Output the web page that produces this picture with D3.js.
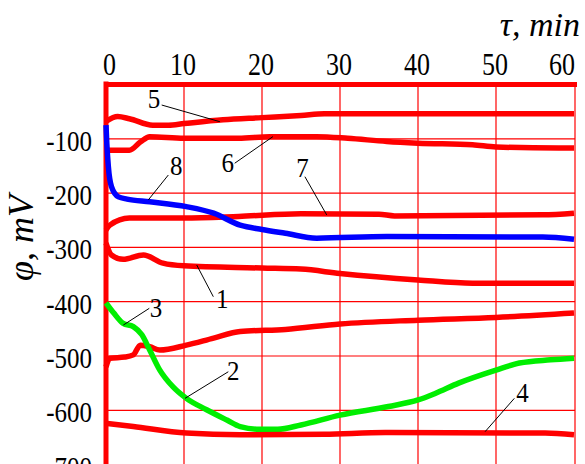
<!DOCTYPE html>
<html><head><meta charset="utf-8">
<script src="https://cdn.jsdelivr.net/npm/d3@7"></script>
<style>body{margin:0;background:#fff}svg{display:block}</style>
</head><body>
<svg id="c" width="585" height="464"></svg>
<script>
// ---- data ----
const xTicks = [0, 10, 20, 30, 40, 50, 60];
const yTicks = [-100, -200, -300, -400, -500, -600, -700];
const xTitle = "τ, min";
const yTitle = "φ, mV";

const curve5 = [[0,-68],[1.5,-59],[3,-63],[6,-75],[8,-75],[10,-72],[15,-65],[20,-61],[25,-57],[28,-54],[40,-54],[50,-54],[60,-54]];
const curve6 = [[0,-121],[3,-121],[4.4,-106],[5.6,-96],[10,-99],[17,-99],[21,-96],[27,-96],[31,-99],[36,-105],[40,-108],[47,-111],[50,-115],[58,-117],[60,-117]];
const curve7 = [[0,-268],[0.5,-259],[3,-246],[10,-246],[17,-243],[25,-238],[35,-239],[37,-242],[56,-240],[60,-237]];
const curve8 = [[0,-75],[0.1,-108],[0.3,-151],[0.7,-188],[1.6,-207],[2.7,-211],[5.6,-216],[10.3,-225],[13.8,-237],[17.2,-259],[20,-267],[23,-274],[27,-283],[36,-280],[56,-281],[60,-285]];
const curve1 = [[0,-292],[0.7,-314],[2.2,-322],[4.8,-314],[7.3,-329],[10,-334],[20,-338],[25,-340],[30,-348],[40,-360],[47,-366],[60,-366]];
const curve2 = [[0,-520],[0.5,-504],[2.4,-502],[3.5,-498],[4.4,-480],[5.6,-483],[6.9,-489],[10.3,-480],[13.8,-467],[17.2,-455],[23,-451],[30,-441],[40,-434],[50,-429],[60,-421]];
const curve3 = [[0,-402],[1,-421],[2.2,-440],[3.5,-446],[4.6,-461],[5.6,-489],[6.9,-526],[8.6,-557],[10.3,-578],[12.9,-599],[15.5,-618],[17.2,-630],[19.7,-635],[22,-635],[25,-627],[30,-609],[36.2,-593],[40,-581],[42.2,-569],[45.2,-550],[50,-526],[53,-513],[57,-507],[60,-504]];
const curve4 = [[0,-624],[3.5,-630],[10.3,-642],[17.2,-645],[28,-644],[35.8,-641],[56.3,-642],[60,-645]];

const seriesNames = ["5","6","7","8","1","2","3","4"];
const seriesData  = [curve5, curve6, curve7, curve8, curve1, curve2, curve3, curve4];
const seriesColor = ["#ff0000","#ff0000","#ff0000","#0000ff","#ff0000","#ff0000","#00ee00","#ff0000"];

// annotation labels: [text, labelX, labelY, lineFromX, lineFromY, lineToX, lineToY] (data units)
const labels = [
  ["5", 6.15, -43, 7.14, -37.8, 14.6, -68.5],
  ["6", 15.6, -161, 16.5, -145, 21.4, -96],
  ["8", 9.0, -167, 7.99, -166.7, 5.42, -212.7],
  ["7", 25.2, -170, 25.5, -169.8, 28.3, -240.3],
  ["1", 14.9, -411.6, 13.76, -390.8, 11.63, -332.4],
  ["3", 6.4, -428.2, 5.55, -412.2, 2.22, -443],
  ["2", 16.3, -544.2, 15.68, -529, 10.13, -578],
  ["4", 53.4, -584.7, 52.35, -578, 48.6, -639.4]
];

// ---- drawing ----
const svg = d3.select("#c");
const x = d3.scaleLinear().domain([0, 60]).range([106, 574]);
const y = d3.scaleLinear().domain([0, -700]).range([84.5, 464.6]);
const serif = "'Liberation Serif','Times New Roman',serif";
const red = "#ff0000";

const grid = svg.append("g");
// vertical grid
grid.selectAll("line.v").data(xTicks.slice(1)).enter().append("line")
  .attr("x1", d => x(d) + (d === 60 ? 1 : 0)).attr("x2", d => x(d) + (d === 60 ? 1 : 0))
  .attr("y1", y(0)).attr("y2", 470)
  .attr("stroke", red).attr("stroke-width", 1.2);
// horizontal grid
grid.selectAll("line.h").data(yTicks).enter().append("line")
  .attr("x1", x(0)).attr("x2", x(60) + 1)
  .attr("y1", d => y(d)).attr("y2", d => y(d))
  .attr("stroke", red).attr("stroke-width", 1.2);

// thick axes lines (left and top)
svg.append("line").attr("x1", x(0)).attr("x2", x(0)).attr("y1", y(0) - 3).attr("y2", 470)
  .attr("stroke", red).attr("stroke-width", 5);
svg.append("line").attr("x1", x(0) - 2).attr("x2", x(60) + 3).attr("y1", y(0)).attr("y2", y(0))
  .attr("stroke", red).attr("stroke-width", 5);

// curves
const line = d3.line().x(d => x(d[0])).y(d => y(d[1])).curve(d3.curveMonotoneX);
svg.append("g").selectAll("path").data(seriesData).enter().append("path")
  .attr("d", line)
  .attr("fill", "none")
  .attr("stroke", (d, i) => seriesColor[i])
  .attr("stroke-width", 5.5)
  .attr("stroke-linejoin", "round")
  .attr("stroke-linecap", "butt");

// x tick labels (top)
svg.append("g").selectAll("text").data(xTicks).enter().append("text")
  .attr("transform", d => {
    const px = d === 0 ? x(d) - 3 : d === 60 ? x(d) + 1 : x(d) - 1;
    return `translate(${px},75) scale(1,1.22)`;
  })
  .attr("text-anchor", d => d === 0 ? "start" : d === 60 ? "end" : "middle")
  .attr("font-family", serif).attr("font-size", 26).attr("fill", "#000")
  .text(d => d);

// y tick labels
svg.append("g").selectAll("text").data(yTicks).enter().append("text")
  .attr("transform", d => `translate(92,${y(d) + 12}) scale(1,1.2)`)
  .attr("text-anchor", "end")
  .attr("font-family", serif).attr("font-size", 25).attr("fill", "#000")
  .text(d => String(d).replace("\u2212", "-"));

// axis titles
svg.append("text").attr("x", 580).attr("y", 36).attr("text-anchor", "end")
  .attr("font-family", serif).attr("font-style", "italic").attr("font-size", 34)
  .attr("fill", "#000").text(xTitle);
svg.append("text").attr("transform", "translate(33,238) rotate(-90)").attr("text-anchor", "middle")
  .attr("font-family", serif).attr("font-style", "italic").attr("font-size", 36)
  .attr("fill", "#000").text(yTitle);

// annotation leaders and numbers
const ann = svg.append("g");
ann.selectAll("line").data(labels).enter().append("line")
  .attr("x1", d => x(d[3])).attr("y1", d => y(d[4]))
  .attr("x2", d => x(d[5])).attr("y2", d => y(d[6]))
  .attr("stroke", "#000").attr("stroke-width", 1);
ann.selectAll("text").data(labels).enter().append("text")
  .attr("transform", d => `translate(${x(d[1])},${y(d[2])}) scale(1,1.12)`)
  .attr("text-anchor", "middle")
  .attr("font-family", serif).attr("font-size", 25).attr("fill", "#000")
  .text(d => d[0]);
</script>
</body></html>
